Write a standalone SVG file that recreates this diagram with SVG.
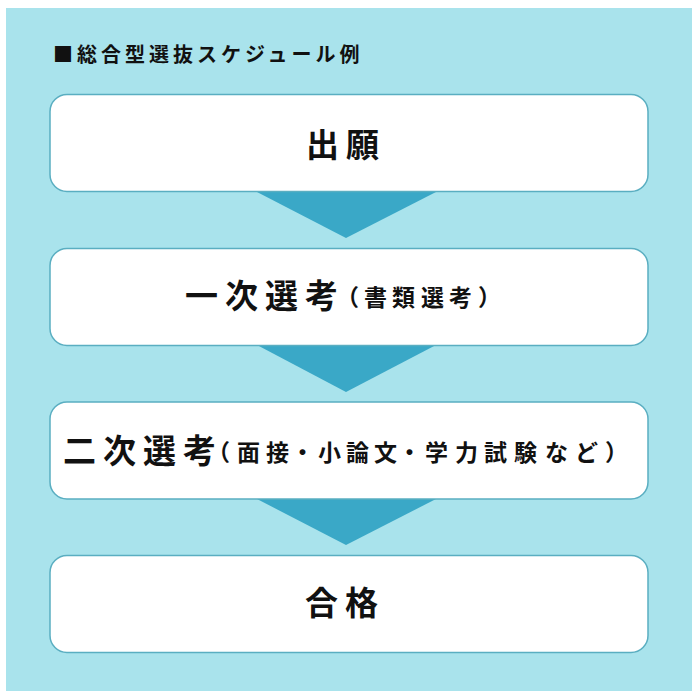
<svg xmlns="http://www.w3.org/2000/svg" width="700" height="700" viewBox="0 0 700 700">
<style>
  .box { fill: #ffffff; stroke: #5aaec1; stroke-width: 1.5; }
  .arrow { fill: #3aa8c7; }
  .t { font-family: "Noto Sans CJK JP", "Noto Sans", sans-serif; font-weight: 700; fill: #111111; }
  .big { font-size: 33px; letter-spacing: 7px; }
  .small { font-size: 23px; }
  .title { font-size: 20px; letter-spacing: 4px; }
</style>
<rect x="0" y="0" width="700" height="700" fill="#ffffff"/>
<rect x="6" y="8" width="686" height="683" fill="#a9e3ec"/>
<text class="t title" x="53" y="62">■総合型選抜スケジュール例</text>
<g id="connectors">
  <polygon class="arrow" points="257,192 436,192 346,238"/>
  <polygon class="arrow" points="257,345 436,345 346,392"/>
  <polygon class="arrow" points="257,499 436,499 346,545"/>
</g>
<g id="node-apply">
  <rect class="box" x="50" y="94.5" width="598" height="97" rx="17" ry="17"/>
  <text class="t big" x="306" y="157">出願</text>
</g>
<g id="node-first">
  <rect class="box" x="50" y="248.5" width="598" height="97" rx="17" ry="17"/>
  <text class="t big" x="185" y="308">一次選考</text>
  <text class="t small" x="336 364 392 421 449 478" y="306">（書類選考）</text>
</g>
<g id="node-second">
  <rect class="box" x="50" y="402" width="598" height="97" rx="17" ry="17"/>
  <text class="t big" x="63" y="463">二次選考</text>
  <text class="t small" x="207 237 266 291 318 346 374 398 425 455 484 514 545 575 605" y="461">（面接・小論文・学力試験など）</text>
</g>
<g id="node-pass">
  <rect class="box" x="50" y="555.5" width="598" height="97" rx="17" ry="17"/>
  <text class="t big" x="305" y="615">合格</text>
</g>
</svg>
